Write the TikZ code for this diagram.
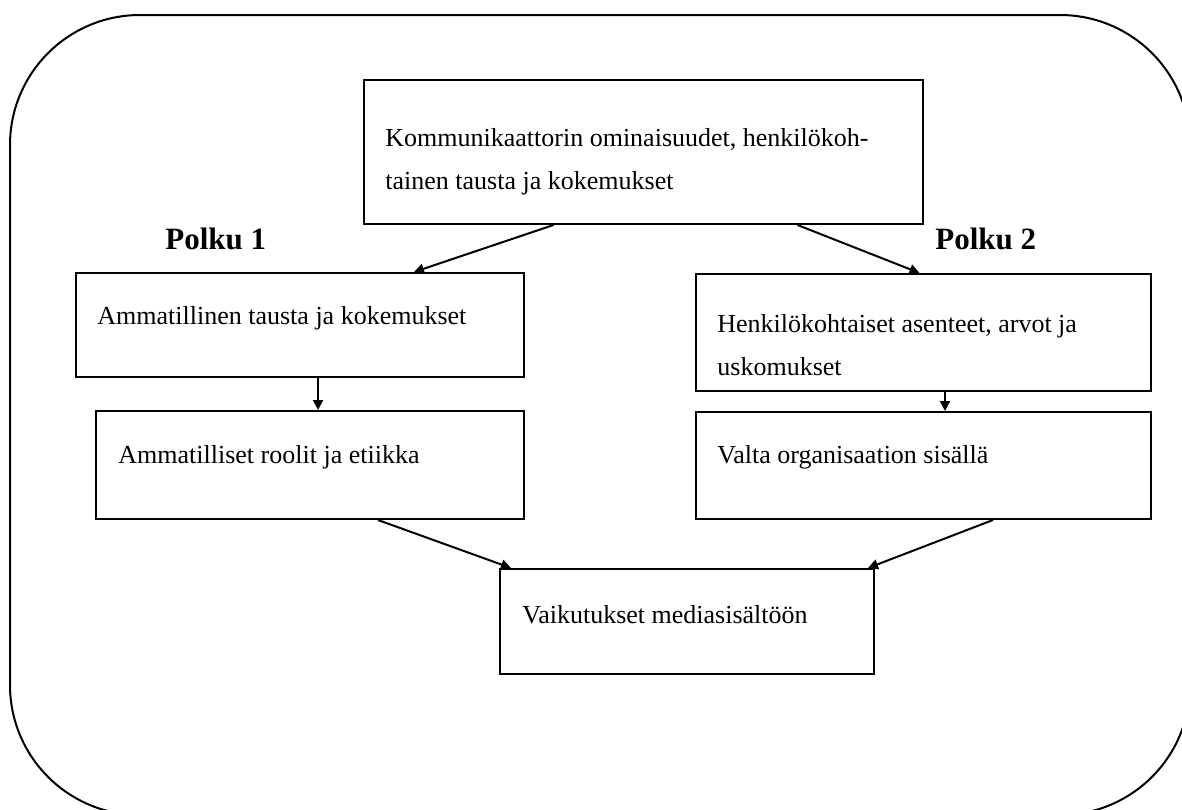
\documentclass[tikz,border=0pt]{standalone}
\usepackage{fontspec}
\setmainfont{Liberation Serif}
\usetikzlibrary{arrows.meta}

\begin{document}
\begin{tikzpicture}[x=0.5pt, y=-0.5pt,
    box/.style={draw, rectangle, line width=1pt, anchor=north west, inner sep=0pt},
    txt/.style={anchor=base west, inner sep=0pt, align=left, font=\fontsize{13}{21.5}\selectfont},
    polku/.style={anchor=base west, inner sep=0pt, font=\fontsize{15.5}{18}\selectfont\bfseries},
    arr/.style={-{Triangle[length=5pt, width=5pt]}, line width=1pt}]
    \useasboundingbox (0,0) rectangle (1182,809);
    \draw[line width=1pt, rounded corners=65pt] (10,15) rectangle (1190,815);

    % boxes
    \node (komm) [box, minimum width=279.5pt, minimum height=72pt] at (363,79) {};
    \node (amm1) [box, minimum width=224pt, minimum height=52pt] at (75,272) {};
    \node (amm2) [box, minimum width=214pt, minimum height=54pt] at (95,410) {};
    \node (henk) [box, minimum width=227.5pt, minimum height=58.5pt] at (695,273) {};
    \node (valta) [box, minimum width=227.5pt, minimum height=53.5pt] at (695,411) {};
    \node (vaik) [box, minimum width=187pt, minimum height=52.5pt] at (499,568) {};

    % texts (base = last line)
    \node (kommtxt) [txt] at (385,189) {Kommunikaattorin ominaisuudet, henkilökoh-\\tainen tausta ja kokemukset};
    \node (amm1txt) [txt] at (97,324) {Ammatillinen tausta ja kokemukset};
    \node (amm2txt) [txt] at (118,463) {Ammatilliset roolit ja etiikka};
    \node (henktxt) [txt] at (717,375) {Henkilökohtaiset asenteet, arvot ja\\uskomukset};
    \node (valtatxt) [txt] at (717,463) {Valta organisaation sisällä};
    \node (vaiktxt) [txt] at (522,623) {Vaikutukset mediasisältöön};
    \node (polku1) [polku] at (165,249) {Polku 1};
    \node (polku2) [polku] at (935,249) {Polku 2};

    % arrows
    \draw[arr] ([xshift=-45pt]komm.south) -- ([xshift=57pt]amm1.north);
    \draw[arr] ([xshift=77pt]komm.south) -- ([xshift=-2pt]henk.north);
    \draw[arr] ([xshift=9pt]amm1.south) -- ([xshift=9pt]amm1.south |- amm2.north);
    \draw[arr] ([xshift=10.75pt]henk.south) -- ([xshift=10.75pt]henk.south |- valta.north);
    \draw[arr] ([xshift=34pt]amm2.south) -- ([xshift=-88pt]vaik.north);
    \draw[arr] ([xshift=34.75pt]valta.south) -- ([xshift=90.5pt]vaik.north);
\end{tikzpicture}
\end{document}
